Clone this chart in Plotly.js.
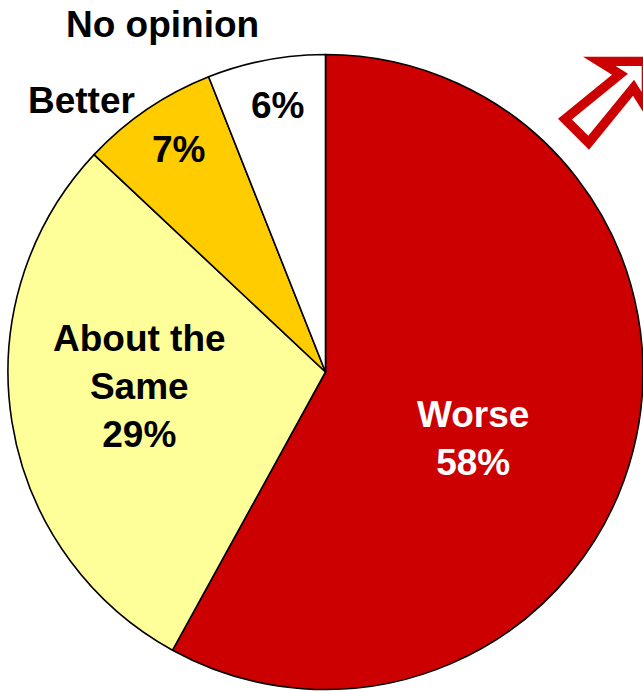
<!DOCTYPE html>
<html>
<head>
<meta charset="utf-8">
<script src="https://cdn.plot.ly/plotly-3.0.1.min.js"></script>
<style>
  html, body { margin: 0; padding: 0; background: #ffffff; overflow: hidden; }
  #chart { width: 643px; height: 692px; }
</style>
</head>
<body>
<div id="chart"></div>
<script>
// ---- Data ----
const labels = ['Worse', 'About the Same', 'Better', 'No opinion'];
const values = [58, 29, 7, 6];
const labelLines = ['Worse', 'About the<br>Same', 'Better', 'No opinion'];

// ---- Styles ----
const sliceColors = ['#CC0000', '#FFFF99', '#FFCC00', '#FFFFFF'];
const textColors = ['#FFFFFF', '#000000', '#000000', '#000000'];
const FONT = 'Arial, "Liberation Sans", Helvetica, sans-serif';
const FS = 37;
const W = 643, H = 692;

// label placement (pixel centres): combined label+value inside, or separate
const placement = [
  { combined: [472.5, 438] },
  { combined: [139, 386.5] },
  { label: [81, 101], value: [178.5, 149.5] },
  { label: [162.5, 24.5], value: [277.5, 105] }
];

const px = (x) => x / W;
const py = (y) => 1 - y / H;

const annotations = [];
labels.forEach((lab, i) => {
  const p = placement[i];
  const valText = values[i] + '%';
  const font = { family: FONT, size: FS, color: textColors[i] };
  if (p.combined) {
    annotations.push({
      xref: 'paper', yref: 'paper', x: px(p.combined[0]), y: py(p.combined[1]),
      xanchor: 'center', yanchor: 'middle', align: 'center', showarrow: false,
      text: '<b>' + labelLines[i] + '<br>' + valText + '</b>', font: font
    });
  } else {
    annotations.push({
      xref: 'paper', yref: 'paper', x: px(p.label[0]), y: py(p.label[1]),
      xanchor: 'center', yanchor: 'middle', showarrow: false,
      text: '<b>' + labelLines[i] + '</b>', font: { family: FONT, size: FS, color: '#000000' }
    });
    annotations.push({
      xref: 'paper', yref: 'paper', x: px(p.value[0]), y: py(p.value[1]),
      xanchor: 'center', yanchor: 'middle', showarrow: false,
      text: '<b>' + valText + '</b>', font: font
    });
  }
});

// ---- Decorative outlined arrow (top-right) ----
const arrowOuter = [[651, 56.7], [583, 56.7], [612, 74.7], [558, 118.7], [589, 149.7], [633, 95.7], [651, 124.7]];

function offsetPolygon(pts, d) {
  const n = pts.length;
  let S = 0;
  for (let i = 0; i < n; i++) {
    const a = pts[i], b = pts[(i + 1) % n];
    S += a[0] * b[1] - b[0] * a[1];
  }
  const sgn = S > 0 ? 1 : -1;
  const lines = [];
  for (let i = 0; i < n; i++) {
    const a = pts[i], b = pts[(i + 1) % n];
    const dx = b[0] - a[0], dy = b[1] - a[1];
    const L = Math.hypot(dx, dy);
    const nx = sgn * (-dy / L), ny = sgn * (dx / L);
    lines.push({ p: [a[0] + nx * d, a[1] + ny * d], dir: [dx, dy] });
  }
  const out = [];
  for (let i = 0; i < n; i++) {
    const l1 = lines[(i - 1 + n) % n], l2 = lines[i];
    const det = l1.dir[0] * (-l2.dir[1]) - l1.dir[1] * (-l2.dir[0]);
    const rx = l2.p[0] - l1.p[0], ry = l2.p[1] - l1.p[1];
    const t = (rx * (-l2.dir[1]) - ry * (-l2.dir[0])) / det;
    out.push([l1.p[0] + t * l1.dir[0], l1.p[1] + t * l1.dir[1]]);
  }
  return out;
}
function toPath(pts) {
  return pts.map((p, i) => (i ? 'L' : 'M') + px(p[0]).toFixed(5) + ',' + py(p[1]).toFixed(5)).join(' ') + ' Z';
}
const arrowInner = offsetPolygon(arrowOuter, 9.3);

const shapes = [
  { type: 'path', xref: 'paper', yref: 'paper', path: toPath(arrowOuter),
    fillcolor: '#CC0000', line: { width: 0 }, layer: 'above' },
  { type: 'path', xref: 'paper', yref: 'paper', path: toPath(arrowInner),
    fillcolor: '#FFFFFF', line: { width: 0 }, layer: 'above' }
];

const trace = {
  type: 'pie',
  labels: labels,
  values: values,
  sort: false,
  direction: 'clockwise',
  rotation: 0,
  textinfo: 'none',
  hoverinfo: 'label+percent',
  marker: { colors: sliceColors, line: { color: '#000000', width: 1.6 } },
  domain: { x: [8 / W, 1], y: [1 - 690 / H, 1 - 54 / H] },
  showlegend: false
};

const layout = {
  width: W, height: H,
  margin: { l: 0, r: 0, t: 0, b: 0, pad: 0 },
  paper_bgcolor: '#FFFFFF',
  plot_bgcolor: '#FFFFFF',
  showlegend: false,
  annotations: annotations,
  shapes: shapes
};

Plotly.newPlot('chart', [trace], layout, { displayModeBar: false, staticPlot: true });
</script>
</body>
</html>
